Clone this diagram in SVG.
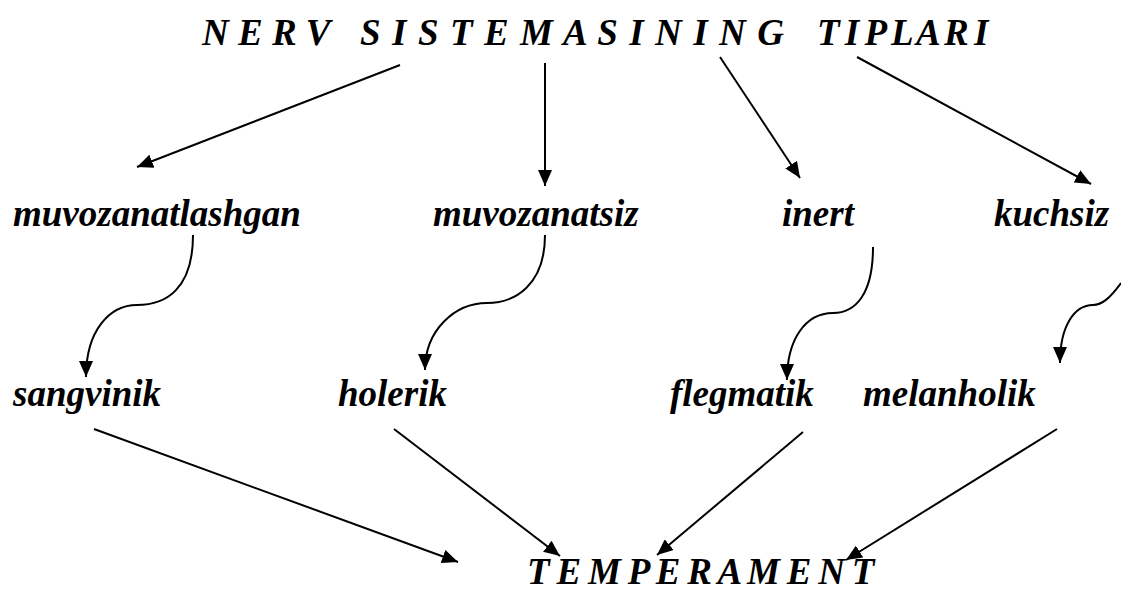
<svg xmlns="http://www.w3.org/2000/svg" width="1121" height="590" viewBox="0 0 1121 590">
<style>
.c{fill:none;stroke:#000;stroke-width:2}
</style>
<defs>
<marker id="ah" markerUnits="userSpaceOnUse" markerWidth="16" markerHeight="14" viewBox="0 0 16 14" refX="16" refY="7" orient="auto">
<path d="M0,0 L16,7 L0,14 Z" fill="#000"/>
</marker>
</defs>
<rect width="1121" height="590" fill="#fff"/>
<g id="title">
<text font-family="Liberation Serif" font-weight="bold" font-style="italic" font-size="37" x="202" y="45">N E R V</text>
<text font-family="Liberation Serif" font-weight="bold" font-style="italic" font-size="37" letter-spacing="1.1" x="360" y="45">S I S T E M A S I N I N G</text>
<text font-family="Liberation Serif" font-weight="bold" font-style="italic" font-size="37" letter-spacing="-2" x="817" y="45">T I P L A R I</text>
</g>
<g id="n-muvozanatlashgan"><text font-family="Liberation Serif" font-weight="bold" font-style="italic" font-size="37" x="13" y="226">muvozanatlashgan</text></g>
<g id="n-muvozanatsiz"><text font-family="Liberation Serif" font-weight="bold" font-style="italic" font-size="37" x="433" y="226">muvozanatsiz</text></g>
<g id="n-inert"><text font-family="Liberation Serif" font-weight="bold" font-style="italic" font-size="37" x="782" y="226">inert</text></g>
<g id="n-kuchsiz"><text font-family="Liberation Serif" font-weight="bold" font-style="italic" font-size="37" x="994" y="226">kuchsiz</text></g>
<g id="n-sangvinik"><text font-family="Liberation Serif" font-weight="bold" font-style="italic" font-size="37" x="13" y="406">sangvinik</text></g>
<g id="n-holerik"><text font-family="Liberation Serif" font-weight="bold" font-style="italic" font-size="37" x="338" y="406">holerik</text></g>
<g id="n-flegmatik"><text font-family="Liberation Serif" font-weight="bold" font-style="italic" font-size="37" x="670" y="406">flegmatik</text></g>
<g id="n-melanholik"><text font-family="Liberation Serif" font-weight="bold" font-style="italic" font-size="37" x="863" y="406">melanholik</text></g>
<g id="n-temperament"><text font-family="Liberation Serif" font-weight="bold" font-style="italic" font-size="37" letter-spacing="-1.2" x="527" y="584">T E M P E R A M E N T</text></g>
<g id="connectors">
<line class="c" x1="400" y1="65" x2="137" y2="167" marker-end="url(#ah)"/>
<line class="c" x1="545" y1="63" x2="545" y2="186" marker-end="url(#ah)"/>
<line class="c" x1="720" y1="57" x2="800" y2="178" marker-end="url(#ah)"/>
<line class="c" x1="857" y1="57" x2="1091" y2="184" marker-end="url(#ah)"/>
<path class="c" d="M193,235 C193,290 165,305 137,305 C110,305 86,330 86,377" marker-end="url(#ah)"/>
<path class="c" d="M545,235 C545,285 515,303 487,303 C455,303 425,330 425,370" marker-end="url(#ah)"/>
<path class="c" d="M873,247 C873,295 855,313 833,313 C805,313 787,340 787,380" marker-end="url(#ah)"/>
<path class="c" d="M1121,283 C1110,298 1102,305 1093,305 C1075,305 1060,325 1060,363" marker-end="url(#ah)"/>
<line class="c" x1="94" y1="429" x2="458" y2="562" marker-end="url(#ah)"/>
<line class="c" x1="394" y1="429" x2="560" y2="556" marker-end="url(#ah)"/>
<line class="c" x1="803" y1="432" x2="657" y2="555" marker-end="url(#ah)"/>
<line class="c" x1="1057" y1="429" x2="846" y2="560" marker-end="url(#ah)"/>
</g>
</svg>
